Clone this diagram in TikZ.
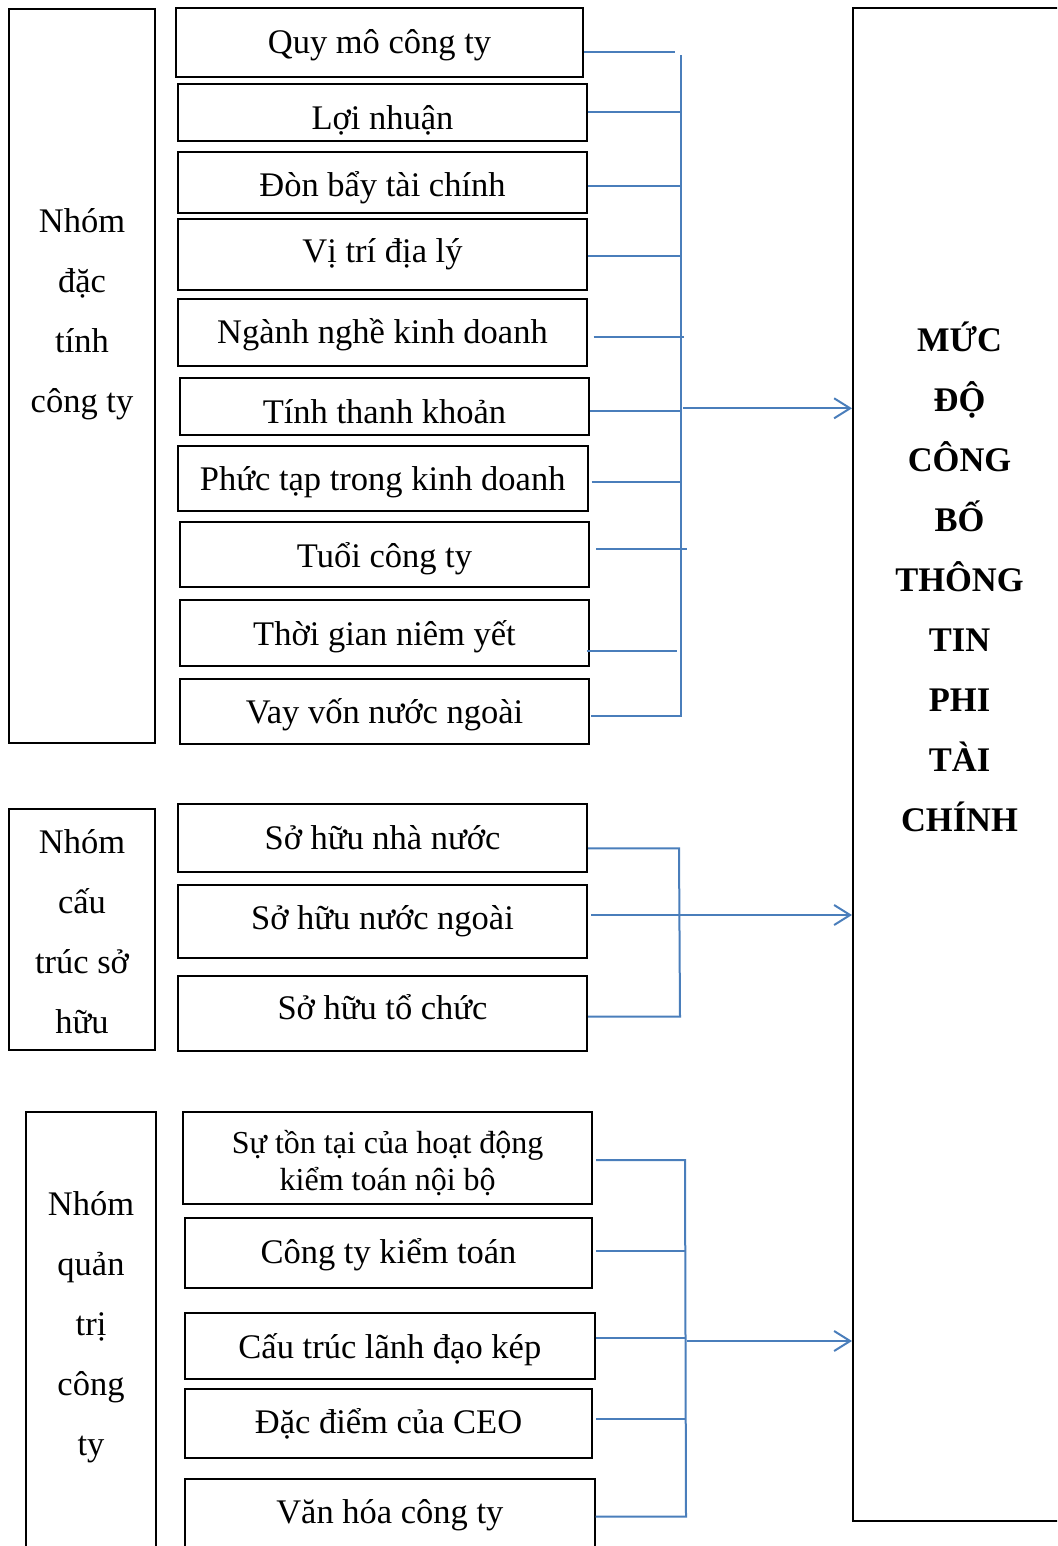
\documentclass[tikz,border=0pt]{standalone}
\usepackage{fontspec}
\setmainfont{Liberation Serif}
\usetikzlibrary{arrows.meta}
\definecolor{lineblue}{HTML}{4A7EBB}
\newcommand\mybox[5]{%
  \node[box, minimum width={#4-#2}, minimum height={#5-#3}] (#1) at ({(#2+#4)/2},{(#3+#5)/2}) {};}
\begin{document}
\begin{tikzpicture}[x=1pt,y=-1pt,
  box/.style={draw=black, line width=2pt, rectangle, inner sep=0pt},
  lbl/.style={anchor=base, inner sep=0pt, yshift=-2pt, font=\fontsize{34.5}{40}\selectfont},
  smalllbl/.style={anchor=base, inner sep=0pt, yshift=-2pt, font=\fontsize{32}{36}\selectfont},
  boldlbl/.style={anchor=base, inner sep=0pt, font=\fontsize{34.5}{40}\selectfont\bfseries},
  conn/.style={draw=lineblue, line width=2pt},
  arr/.style={conn, -{Straight Barb[length=16pt,width=20pt]}}
]
\useasboundingbox (0,0) rectangle (1057,1546);
\clip (0,0) rectangle (1057,1546);

% ---------- boxes ----------
\mybox{R}{853}{8.3}{1100}{1521}
\mybox{g1}{9}{9}{155}{743}
\mybox{g2}{9}{809}{155}{1050}
\mybox{g3}{25.6}{1111.7}{156.4}{1620}

\mybox{q1}{176}{8.5}{583}{77.3}
\mybox{q2}{178.3}{84.3}{586.7}{141.3}
\mybox{q3}{178}{151.7}{587}{213.3}
\mybox{q4}{178}{218.7}{587}{290}
\mybox{q5}{178}{299.3}{587}{365.7}
\mybox{q6}{180}{378.3}{589}{435}
\mybox{q7}{178}{446}{587.5}{511}
\mybox{q8}{180}{522.3}{589}{587.3}
\mybox{q9}{180}{600}{589}{665.7}
\mybox{q10}{180}{679.3}{589}{744.3}

\mybox{s1}{178}{804}{587}{872.3}
\mybox{s2}{178}{885.3}{587}{957.7}
\mybox{s3}{178}{975.7}{587}{1050.7}

\mybox{c1}{183.4}{1111.7}{592}{1204}
\mybox{c2}{185}{1217.7}{592}{1288.3}
\mybox{c3}{185}{1312.7}{594.7}{1379.3}
\mybox{c4}{185}{1389.3}{592}{1457.7}
\mybox{c5}{185}{1479.3}{594.7}{1620}

% ---------- texts ----------
\node[lbl] (tq1) at (q1.center |- 0,52) {Quy mô công ty};
\node[lbl] (tq2) at (q2.center |- 0,127.7) {Lợi nhuận};
\node[lbl] (tq3) at (q3.center |- 0,194.3) {Đòn bẩy tài chính};
\node[lbl] (tq4) at (q4.center |- 0,260) {Vị trí địa lý};
\node[lbl] (tq5) at (q5.center |- 0,341.7) {Ngành nghề kinh doanh};
\node[lbl] (tq6) at (q6.center |- 0,421.7) {Tính thanh khoản};
\node[lbl] (tq7) at (q7.center |- 0,488.3) {Phức tạp trong kinh doanh};
\node[lbl] (tq8) at (q8.center |- 0,565) {Tuổi công ty};
\node[lbl] (tq9) at (q9.center |- 0,643.3) {Thời gian niêm yết};
\node[lbl] (tq10) at (q10.center |- 0,721.7) {Vay vốn nước ngoài};

\node[lbl] (ts1) at (s1.center |- 0,847.7) {Sở hữu nhà nước};
\node[lbl] (ts2) at (s2.center |- 0,927.7) {Sở hữu nước ngoài};
\node[lbl] (ts3) at (s3.center |- 0,1017.7) {Sở hữu tổ chức};

\node[smalllbl] (tc1a) at (c1.center |- 0,1151.7) {Sự tồn tại của hoạt động};
\node[smalllbl] (tc1b) at (c1.center |- 0,1188.3) {kiểm toán nội bộ};
\node[lbl] (tc2) at (c2.center |- 0,1261.7) {Công ty kiểm toán};
\node[lbl] (tc3) at (c3.center |- 0,1356.7) {Cấu trúc lãnh đạo kép};
\node[lbl] (tc4) at (c4.center |- 0,1431.7) {Đặc điểm của CEO};
\node[lbl] (tc5) at (c5.center |- 0,1521.7) {Văn hóa công ty};

\foreach \t/\y [count=\i] in {Nhóm/230.7, đặc/290.7, tính/350.7, công ty/410.7}
  \node[lbl] (tg1\i) at (82,\y) {\t};
\foreach \t/\y [count=\i] in {Nhóm/851, cấu/911, trúc sở/971, hữu/1031}
  \node[lbl] (tg2\i) at (82,\y) {\t};
\foreach \t/\y [count=\i] in {Nhóm/1213.3, quản/1273.3, trị/1333.3, công/1393.3, ty/1453.3}
  \node[lbl] (tg3\i) at (91,\y) {\t};
\foreach \t [count=\i] in {MỨC, ĐỘ, CÔNG, BỐ, THÔNG, TIN, PHI, TÀI, CHÍNH}
  \node[boldlbl] (tr\i) at (959.5,{291+60*\i}) {\t};

% ---------- connectors, group 1 ----------
\coordinate (b1t) at (680.7,55);
\coordinate (b1b) at (680.7,715.7);
\draw[conn] (q1.east |- 0,52.3) -- (675,52.3);
\draw[conn] (q2.east |- 0,112.3) -- (b1t |- 0,112.3);
\draw[conn] (q3.east |- 0,186) -- (b1t |- 0,186);
\draw[conn] (q4.east |- 0,255.7) -- (b1t |- 0,255.7);
\draw[conn] ([xshift=5.7pt]q5.east |- 0,336.7) -- (684,336.7);
\draw[conn] (q6.east |- 0,410.7) -- (b1t |- 0,410.7);
\draw[conn] ([xshift=3pt]q7.east |- 0,482.3) -- (681.7,482.3);
\draw[conn] ([xshift=6pt]q8.east |- 0,549.3) -- (686.7,549.3);
\draw[conn] ([xshift=-3pt]q9.east |- 0,651.3) -- (677.3,651.3);
\draw[conn] ([xshift=1pt]q10.east |- 0,715.7) -- (b1b) -- (b1t);
\draw[arr] (683,408.3) -- (R.west |- 0,408.3);

% ---------- connectors, group 2 ----------
\coordinate (b2t) at (679,848.3);
\coordinate (b2b) at (680,1016.7);
\draw[conn] (s1.east |- 0,848.3) -- (b2t) -- (b2b) -- (s3.east |- 0,1016.7);
\draw[arr] ([xshift=3pt]s2.east |- 0,915) -- (R.west |- 0,915);

% ---------- connectors, group 3 ----------
\coordinate (b3t) at (685,1160);
\coordinate (b3b) at (686,1516.7);
\draw[conn] ([xshift=3pt]c1.east |- 0,1160) -- (b3t) -- (b3b) -- (c5.east |- 0,1516.7);
\draw[conn] ([xshift=3pt]c2.east |- 0,1250.7) -- (b3t |- 0,1250.7);
\draw[conn] (c3.east |- 0,1338.3) -- (b3t |- 0,1338.3);
\draw[conn] ([xshift=3pt]c4.east |- 0,1419.3) -- (b3t |- 0,1419.3);
\draw[arr] (687,1341) -- (R.west |- 0,1341);
\end{tikzpicture}
\end{document}
